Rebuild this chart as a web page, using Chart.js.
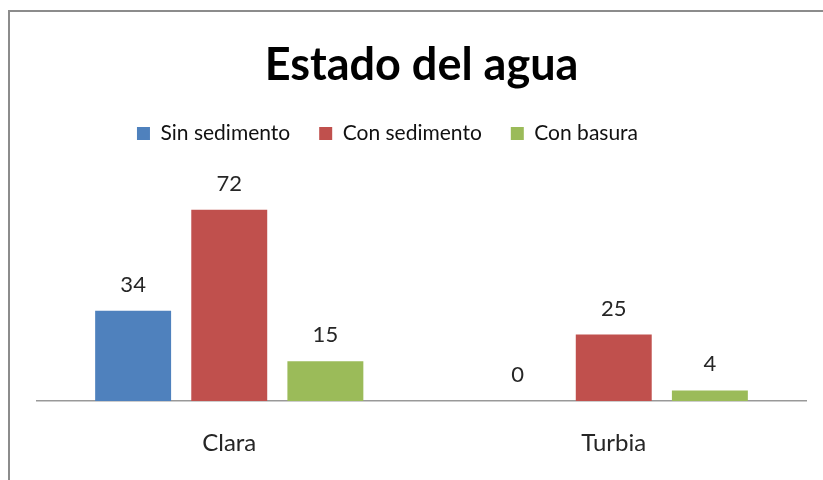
<!DOCTYPE html>
<html>
<head>
<meta charset="utf-8">
<script src="https://cdn.jsdelivr.net/npm/chart.js@4/dist/chart.umd.min.js"></script>
<style>
html,body{margin:0;padding:0;background:#fff;}
#wrap{position:absolute;left:0;top:0;width:823px;height:480px;}
</style>
</head>
<body>
<div id="wrap"><canvas id="c" width="823" height="480"></canvas></div>
<script>
const categories = ["Clara", "Turbia"];
const sinSedimento = [34, 0];
const conSedimento = [72, 25];
const conBasura = [15, 4];
const seriesNames = ["Sin sedimento", "Con sedimento", "Con basura"];
const chartTitle = "Estado del agua";

const FONT = "Lato, 'Open Sans', sans-serif";

const borderPlugin = {
  id: 'frame',
  beforeDraw(chart) {
    const ctx = chart.ctx;
    ctx.save();
    ctx.fillStyle = '#fff';
    ctx.fillRect(0, 0, chart.width, chart.height);
    ctx.strokeStyle = '#8c8c8c';
    ctx.lineWidth = 2;
    ctx.beginPath();
    ctx.moveTo(9, chart.height);
    ctx.lineTo(9, 11);
    ctx.lineTo(chart.width, 11);
    ctx.stroke();
    ctx.restore();
  },
  afterLayout(chart) {
    // legend sits slightly left of centre in the reference
    if (chart.legend) {
      chart.legend.left -= 34;
      chart.legend.right -= 34;
    }
  }
};

const labelPlugin = {
  id: 'valueLabels',
  afterDatasetsDraw(chart) {
    const ctx = chart.ctx;
    ctx.save();
    ctx.font = "22px " + FONT;
    ctx.fillStyle = '#262626';
    ctx.textAlign = 'center';
    ctx.textBaseline = 'middle';
    chart.data.datasets.forEach((ds, i) => {
      const meta = chart.getDatasetMeta(i);
      meta.data.forEach((el, j) => {
        ctx.fillText(String(ds.data[j]), el.x, el.y - 26);
      });
    });
    ctx.restore();
  }
};

new Chart(document.getElementById('c'), {
  type: 'bar',
  data: {
    labels: categories,
    datasets: [
      { label: seriesNames[0], data: sinSedimento, backgroundColor: '#4F81BD' },
      { label: seriesNames[1], data: conSedimento, backgroundColor: '#C0504D' },
      { label: seriesNames[2], data: conBasura, backgroundColor: '#9BBB59' }
    ]
  },
  options: {
    responsive: false,
    animation: false,
    devicePixelRatio: 1,
    layout: { padding: { left: 37, right: 17, top: 38, bottom: 23 } },
    datasets: { bar: { categoryPercentage: 0.75, barPercentage: 0.79 } },
    plugins: {
      title: {
        display: true,
        text: chartTitle,
        color: '#000',
        font: { family: FONT, size: 45, weight: 'bold' },
        padding: { top: 0, bottom: 2 }
      },
      legend: {
        display: true,
        position: 'top',
        labels: {
          boxWidth: 13, boxHeight: 13,
          color: '#111',
          font: { family: FONT, size: 21 },
          padding: 29
        }
      },
      tooltip: { enabled: false }
    },
    scales: {
      x: {
        grid: { display: false, drawTicks: false },
        border: { display: true, color: '#999', width: 1.5 },
        ticks: { color: '#262626', font: { family: FONT, size: 24 }, padding: 28 },
        afterFit(scale) { scale.height = 56; }
      },
      y: {
        display: false,
        min: 0, max: 93
      }
    }
  },
  plugins: [borderPlugin, labelPlugin]
});
</script>
</body>
</html>
